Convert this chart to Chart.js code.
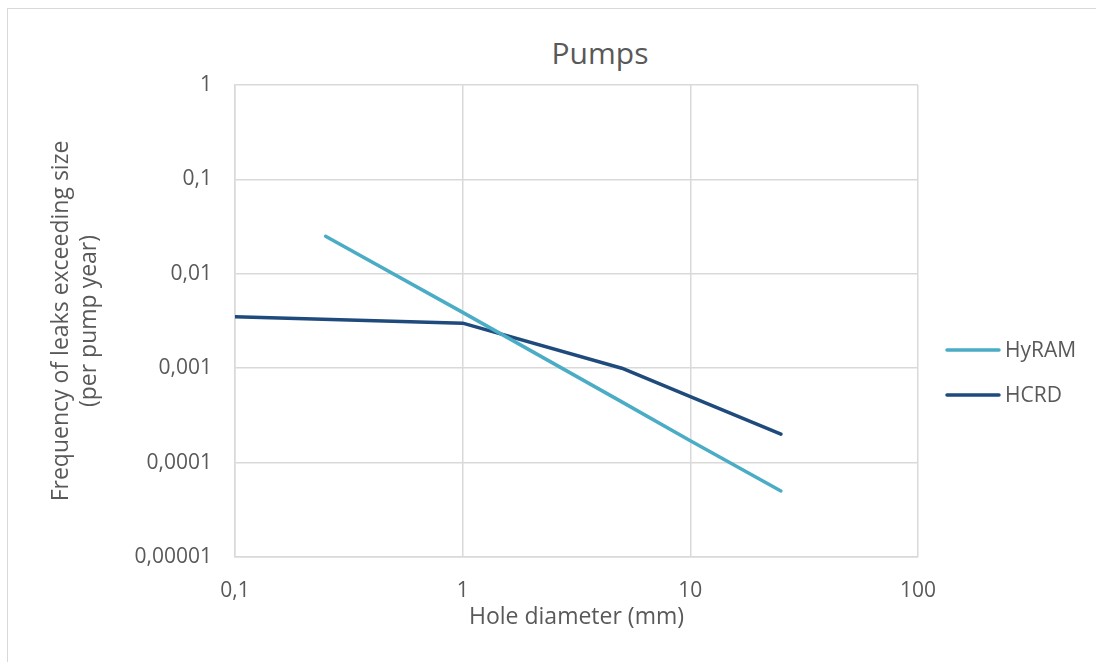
<!DOCTYPE html>
<html>
<head>
<meta charset="utf-8">
<title>Pumps</title>
<script src="https://cdn.jsdelivr.net/npm/chart.js@4.4.1/dist/chart.umd.min.js"></script>
<style>
  html, body { margin: 0; padding: 0; background: #fff; overflow: hidden; }
  #wrap { position: relative; width: 1096px; height: 662px; overflow: hidden; }
  #frame { position: absolute; left: 7px; top: 8px; width: 1300px; height: 900px;
           border-top: 1.5px solid #d9d9d9; border-left: 1.5px solid #d9d9d9; }
  #title { position: absolute; left: 0; top: 38px; width: 1200px; text-align: center;
           font: 30px/30px 'Open Sans', sans-serif; color: #595959; }
  canvas { position: absolute; left: 0; top: 0; }
</style>
</head>
<body>
<div id="wrap">
  <div id="frame"></div>
  <div id="title">Pumps</div>
  <canvas id="chart" width="1096" height="662"></canvas>
</div>
<script>
;(() => {
    // hole diameter (mm) vs frequency of leaks exceeding size
    const hyramX = [0.25, 1, 5, 10, 25]
    const hyramY = [0.025, 0.0039, 0.00044, 0.00017, 0.00005]
    const hcrdX = [0.1, 1, 5, 10, 25]
    const hcrdY = [0.0035, 0.003, 0.001, 0.0005, 0.0002]

    const xTicks = [0.1, 1, 10, 100]
    const xTickLabels = ['0,1', '1', '10', '100']
    const yTicks = [0.00001, 0.0001, 0.001, 0.01, 0.1, 1]
    const yTickLabels = ['0,00001', '0,0001', '0,001', '0,01', '0,1', '1']

    const textColor = '#595959'
    const gridColor = '#d9d9d9'

    const toPoints = (xs, ys) => xs.map((x, i) => ({ x: x, y: ys[i] }))

    // legend drawn at the right, outside the plot, from the datasets
    const sideLegend = {
        id: 'sideLegend',
        afterDraw(chart, args, opts) {
            const ctx = chart.ctx
            chart.data.datasets.forEach((ds, i) => {
                const y = opts.top + i * opts.gap
                ctx.save()
                ctx.strokeStyle = ds.borderColor
                ctx.lineWidth = ds.borderWidth
                ctx.lineCap = 'round'
                ctx.beginPath()
                ctx.moveTo(opts.left, y)
                ctx.lineTo(opts.left + opts.lineLength, y)
                ctx.stroke()
                ctx.fillStyle = textColor
                ctx.font = opts.font
                ctx.textBaseline = 'middle'
                ctx.fillText(ds.label, opts.left + opts.lineLength + 6, y + 1)
                ctx.restore()
            })
        },
    }

    new Chart(document.getElementById('chart'), {
        type: 'line',
        data: {
            datasets: [
                {
                    label: 'HyRAM',
                    data: toPoints(hyramX, hyramY),
                    borderColor: '#4bacc6',
                    borderWidth: 3.5,
                    pointRadius: 0,
                    pointHoverRadius: 0,
                    borderCapStyle: 'round',
                    borderJoinStyle: 'round',
                    tension: 0,
                },
                {
                    label: 'HCRD',
                    data: toPoints(hcrdX, hcrdY),
                    borderColor: '#1f4a7c',
                    borderWidth: 3.5,
                    pointRadius: 0,
                    pointHoverRadius: 0,
                    borderCapStyle: 'round',
                    borderJoinStyle: 'round',
                    tension: 0,
                },
            ],
        },
        options: {
            responsive: false,
            animation: false,
            events: [],
            layout: { padding: { top: 85, right: 178, bottom: 0, left: 0 } },
            plugins: {
                legend: { display: false },
                title: { display: false },
                tooltip: { enabled: false },
                sideLegend: {
                    left: 947,
                    top: 350,
                    gap: 45,
                    lineLength: 52,
                    font: "21px 'Open Sans', sans-serif",
                },
            },
            scales: {
                x: {
                    type: 'logarithmic',
                    min: 0.1,
                    max: 100,
                    afterBuildTicks: (scale) => {
                        scale.ticks = xTicks.map((v) => ({ value: v, major: true }))
                    },
                    afterFit: (scale) => {
                        scale.height = 105
                    },
                    ticks: {
                        autoSkip: false,
                        maxRotation: 0,
                        padding: 21,
                        color: textColor,
                        font: { family: "'Open Sans', sans-serif", size: 21 },
                        callback: (value, i) => xTickLabels[i],
                    },
                    grid: { color: gridColor, lineWidth: 1.5, drawTicks: false },
                    border: { color: gridColor, width: 1.5 },
                    title: {
                        display: true,
                        text: 'Hole diameter (mm)',
                        color: textColor,
                        font: { family: "'Open Sans', sans-serif", size: 23 },
                        padding: { top: 0, bottom: 31 },
                    },
                },
                y: {
                    type: 'logarithmic',
                    min: 0.00001,
                    max: 1,
                    afterBuildTicks: (scale) => {
                        scale.ticks = yTicks.map((v) => ({ value: v, major: true }))
                    },
                    afterFit: (scale) => {
                        scale.width = 235
                    },
                    ticks: {
                        autoSkip: false,
                        padding: 23,
                        color: textColor,
                        font: { family: "'Open Sans', sans-serif", size: 21 },
                        callback: (value, i) => yTickLabels[i],
                    },
                    grid: { color: gridColor, lineWidth: 1.5, drawTicks: false },
                    border: { color: gridColor, width: 1.5 },
                    title: {
                        display: true,
                        text: ['Frequency of leaks exceeding size', '(per pump year)'],
                        color: textColor,
                        font: { family: "'Open Sans', sans-serif", size: 23 },
                        padding: { top: 48, bottom: 0 },
                    },
                },
            },
        },
        plugins: [sideLegend],
    })
})()
</script>
</body>
</html>
